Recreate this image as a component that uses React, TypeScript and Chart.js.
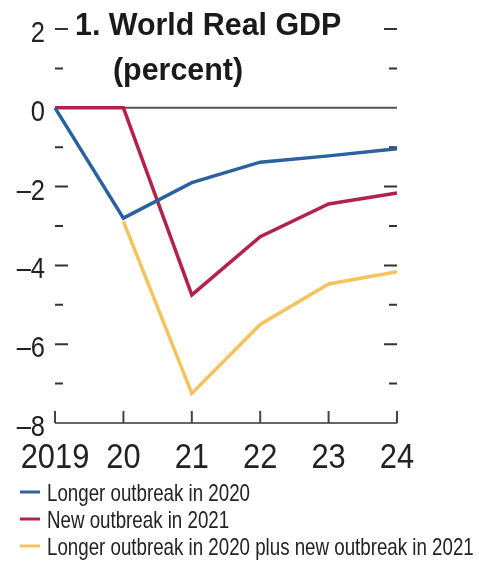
import React, { useEffect, useRef } from "react";
import { Chart, registerables } from "chart.js";

Chart.register(...registerables);

const years = ["2019", "20", "21", "22", "23", "24"];
const longer2020 = [0, -2.8, -1.9, -1.38, -1.22, -1.04];
const new2021 = [0, 0, -4.75, -3.27, -2.44, -2.16];
const combined: (number | null)[] = [null, -2.88, -7.25, -5.5, -4.47, -4.16];
const seriesNames = [
  "Longer outbreak in 2020",
  "New outbreak in 2021",
  "Longer outbreak in 2020 plus new outbreak in 2021",
];
const seriesColors = ["#2a62a0", "#b2234c", "#f4c35e"];
const yMajorTicks = [2, 0, -2, -4, -6, -8];
const yMinorTicks = [1, -1, -3, -5, -7];
const titleLines = ["1. World Real GDP", "(percent)"];

const FONT = "'Liberation Sans', Arial, sans-serif";

function drawText(ctx: any, text: string, x: number, y: number, font: string, align: string, sx: number, color: string) {
  ctx.save();
  ctx.font = font;
  ctx.fillStyle = color;
  ctx.textBaseline = "alphabetic";
  ctx.textAlign = align;
  ctx.translate(x, y);
  ctx.scale(sx, 1);
  ctx.fillText(text, 0, 0);
  ctx.restore();
}

const fmtY = (v: number) => (v < 0 ? "\u2013" + Math.abs(v) : String(v));

const decorPlugin = {
  id: "decor",
  beforeDatasetsDraw(chart: any) {
    const ctx = chart.ctx;
    const x = chart.scales.x;
    const y = chart.scales.y;
    const { left, right, top } = chart.chartArea;
    ctx.save();
    // zero line
    ctx.strokeStyle = "#555";
    ctx.lineWidth = 2;
    ctx.beginPath();
    ctx.moveTo(left, y.getPixelForValue(0));
    ctx.lineTo(right, y.getPixelForValue(0));
    ctx.stroke();
    // bottom axis
    ctx.strokeStyle = "#666";
    ctx.beginPath();
    ctx.moveTo(left, y.getPixelForValue(-8));
    ctx.lineTo(right, y.getPixelForValue(-8));
    ctx.stroke();
    // x ticks (upward)
    ctx.strokeStyle = "#444";
    years.forEach((_, i) => {
      const px = x.getPixelForValue(i);
      ctx.beginPath();
      ctx.moveTo(px, y.getPixelForValue(-8));
      ctx.lineTo(px, y.getPixelForValue(-8) - 12);
      ctx.stroke();
    });
    // y ticks (inward)
    ctx.strokeStyle = "#333";
    yMajorTicks.forEach((v) => {
      if (v === 0 || v === -8) return;
      const py = y.getPixelForValue(v);
      ctx.beginPath();
      ctx.moveTo(left, py);
      ctx.lineTo(left + 13, py);
      ctx.moveTo(right, py);
      ctx.lineTo(right - 13, py);
      ctx.stroke();
    });
    yMinorTicks.forEach((v) => {
      const py = y.getPixelForValue(v);
      ctx.beginPath();
      ctx.moveTo(left, py);
      ctx.lineTo(left + 8, py);
      ctx.moveTo(right, py);
      ctx.lineTo(right - 8, py);
      ctx.stroke();
    });
    ctx.restore();

    // y tick labels
    yMajorTicks.forEach((v) => {
      const py = y.getPixelForValue(v);
      drawText(ctx, fmtY(v), left - 10, py + 13, `30px ${FONT}`, "right", 0.85, "#222");
    });
    // x tick labels
    years.forEach((lab, i) => {
      const px = x.getPixelForValue(i);
      drawText(ctx, lab, px, 468, `35px ${FONT}`, "center", 0.88, "#222");
    });
    // title
    drawText(ctx, titleLines[0], left + 20, top + 6, `bold 32px ${FONT}`, "left", 0.95, "#1a1a1a");
    drawText(ctx, titleLines[1], left + 58, top + 51, `bold 32px ${FONT}`, "left", 0.95, "#1a1a1a");
    // legend
    seriesNames.forEach((name, i) => {
      const ly = 492 + i * 27;
      ctx.save();
      ctx.strokeStyle = seriesColors[i];
      ctx.lineWidth = 3;
      ctx.beginPath();
      ctx.moveTo(20, ly);
      ctx.lineTo(40, ly);
      ctx.stroke();
      ctx.restore();
      drawText(ctx, name, 47, ly + 9, `24px ${FONT}`, "left", 0.78, "#222");
    });
  },
};

export default function App() {
  const ref = useRef<HTMLCanvasElement>(null);
  useEffect(() => {
    if (!ref.current) return;
    const chart = new Chart(ref.current, {
      type: "line",
      data: {
        labels: years,
        datasets: [
          { label: seriesNames[0], data: longer2020, borderColor: seriesColors[0], borderWidth: 3.5, pointRadius: 0, tension: 0 },
          { label: seriesNames[1], data: new2021, borderColor: seriesColors[1], borderWidth: 3.5, pointRadius: 0, tension: 0 },
          { label: seriesNames[2], data: combined, borderColor: seriesColors[2], borderWidth: 3.5, pointRadius: 0, tension: 0 },
        ],
      },
      options: {
        responsive: false,
        animation: false,
        layout: { padding: { top: 29, right: 82, left: 0, bottom: 0 } },
        plugins: { legend: { display: false }, title: { display: false }, tooltip: { enabled: false } },
        scales: {
          x: {
            type: "category",
            offset: false,
            grid: { display: false, drawTicks: false },
            border: { display: false },
            ticks: { display: false },
            afterFit: (s: any) => { s.height = 141; },
          },
          y: {
            min: -8,
            max: 2,
            grid: { display: false, drawTicks: false },
            border: { display: false },
            ticks: { display: false, stepSize: 2 },
            afterFit: (s: any) => { s.width = 55; },
          },
        },
      },
      plugins: [decorPlugin],
    } as any);
    return () => chart.destroy();
  }, []);
  return (
    <div style={{ position: "fixed", left: 0, top: 0, width: 479, height: 564, background: "#fff" }}>
      <canvas ref={ref} width={479} height={564} style={{ width: 479, height: 564 }} />
    </div>
  );
}
